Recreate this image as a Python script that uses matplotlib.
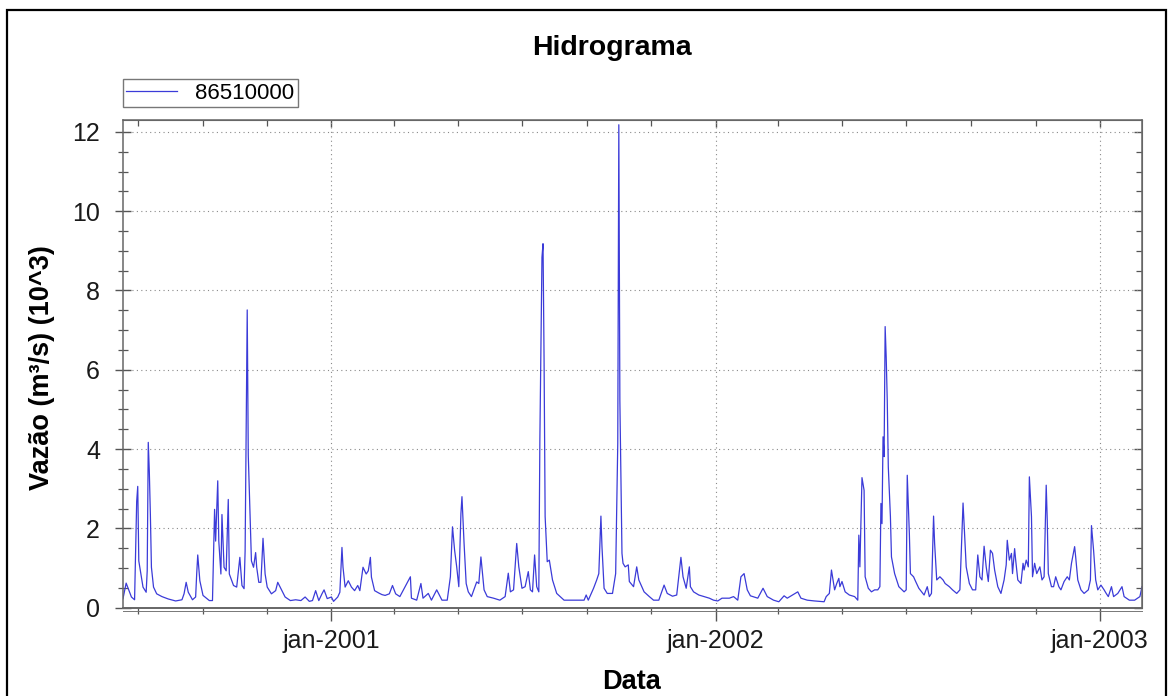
import matplotlib
matplotlib.use("Agg")
import matplotlib.pyplot as plt
import matplotlib.dates as mdates
import matplotlib.ticker as mticker
from matplotlib.patches import Rectangle
import pandas as pd

plt.rcParams['font.family'] = ['Liberation Sans', 'DejaVu Sans']

# ---------------- data ----------------
data_ref = '2001-01-01'          # day offsets below are relative to this date
estacao = '86510000'

dias = [
    -198, -195, -190, -187, -185, -184, -183, -181, -179, -176,
    -175, -174, -173, -172, -171, -169, -166, -161, -155, -148,
    -142, -140, -138, -136, -132, -129, -128, -127, -125, -122,
    -116, -113, -111, -110, -108, -107, -105, -104, -102, -100,
    -98, -97, -93, -90, -87, -85, -83, -82, -80, -79,
    -77, -76, -74, -72, -71, -69, -67, -65, -63, -61,
    -57, -53, -51, -48, -44, -39, -34, -29, -25, -21,
    -18, -15, -12, -9, -7, -4, 0, 2, 6, 8,
    10, 11, 13, 16, 19, 22, 25, 27, 30, 33,
    35, 37, 38, 41, 45, 48, 51, 55, 58, 61,
    65, 75, 76, 81, 85, 87, 92, 95, 100, 105,
    110, 113, 115, 117, 119, 121, 123, 124, 126, 128,
    130, 133, 138, 140, 142, 145, 148, 154, 160, 165,
    168, 170, 173, 176, 178, 181, 184, 187, 189, 191,
    193, 195, 197, 198, 200, 201, 202, 203, 205, 207,
    210, 214, 221, 227, 240, 242, 244, 249, 252, 254,
    256, 257, 259, 262, 267, 270, 272, 273, 274, 276,
    277, 279, 282, 283, 287, 290, 292, 297, 302, 306,
    311, 316, 319, 324, 328, 332, 334, 337, 340, 341,
    344, 349, 354, 359, 363, 367, 371, 378, 382, 386,
    389, 392, 395,
    398, 405, 410, 414, 420, 425, 430, 433, 438, 443,
    446, 452, 459, 468, 470, 473, 475, 478, 480, 482,
    483, 485, 488, 492, 497, 500, 501, 502, 504, 506,
    507, 510, 513, 516, 519, 521, 522, 523, 524, 525,
    526, 527, 528, 529, 531, 532, 535, 539, 544, 546,
    547, 549, 550, 553, 555, 558, 563, 566, 568, 570,
    572, 573, 575, 578, 581, 583, 587, 590, 594, 597,
    599, 600, 601, 603, 606, 609, 612, 614, 616, 618,
    620, 622, 624, 626, 628, 630, 633, 636, 639, 641,
    642, 644, 646, 647, 649, 650, 652, 655, 657, 658,
    660, 662, 663, 665, 666, 668, 670, 673, 675, 677,
    679, 680, 681, 684, 686, 688, 691, 693, 696, 699,
    701, 703, 706, 707, 709, 712, 715, 719, 721, 722,
    724, 726, 728, 731, 734, 736, 738, 741, 743, 747,
    751, 753, 758, 763, 768, 770,
]

vazao = [
    0.23, 0.62, 0.27, 0.20, 2.68, 3.06, 1.18, 0.85, 0.52, 0.39,
    0.93, 4.17, 3.43, 2.35, 1.02, 0.52, 0.35, 0.28, 0.22, 0.17,
    0.20, 0.35, 0.64, 0.39, 0.20, 0.27, 0.85, 1.33, 0.68, 0.31,
    0.18, 0.18, 2.48, 1.68, 3.20, 1.68, 0.85, 2.35, 1.02, 0.93,
    2.73, 0.85, 0.56, 0.52, 1.27, 0.56, 0.48, 1.43, 7.51, 3.85,
    2.02, 1.18, 1.02, 1.39, 1.02, 0.64, 0.64, 1.75, 0.85, 0.52,
    0.35, 0.43, 0.64, 0.48, 0.27, 0.18, 0.20, 0.18, 0.27, 0.16,
    0.18, 0.43, 0.18, 0.35, 0.45, 0.23, 0.27, 0.16, 0.27, 0.39,
    1.52, 1.02, 0.52, 0.68, 0.52, 0.43, 0.56, 0.43, 1.02, 0.85,
    0.93, 1.27, 0.77, 0.43, 0.37, 0.33, 0.31, 0.35, 0.56, 0.35,
    0.28, 0.78, 0.24, 0.19, 0.61, 0.24, 0.36, 0.19, 0.45, 0.19,
    0.19, 0.78, 2.04, 1.45, 1.03, 0.53, 2.37, 2.80, 1.62, 0.61,
    0.40, 0.28, 0.65, 0.61, 1.28, 0.45, 0.28, 0.24, 0.19, 0.28,
    0.87, 0.40, 0.45, 1.62, 1.03, 0.49, 0.53, 0.91, 0.45, 0.40,
    1.33, 0.53, 0.40, 4.23, 8.84, 9.18, 6.24, 2.30, 1.16, 1.20,
    0.70, 0.36, 0.19, 0.19, 0.19, 0.32, 0.19, 0.49, 0.70, 0.86,
    2.31, 1.54, 0.49, 0.36, 0.36, 0.86, 4.14, 12.18, 5.23, 1.37,
    1.12, 1.03, 1.08, 0.66, 0.53, 1.03, 0.70, 0.40, 0.28, 0.19,
    0.19, 0.57, 0.36, 0.29, 0.32, 1.27, 0.78, 0.49, 1.03, 0.53,
    0.40, 0.32, 0.28, 0.24, 0.19, 0.17, 0.24, 0.24, 0.28, 0.19,
    0.78, 0.86, 0.45,
    0.30, 0.24, 0.49, 0.28, 0.19, 0.15, 0.30, 0.24, 0.32, 0.40,
    0.24, 0.19, 0.17, 0.15, 0.28, 0.36, 0.95, 0.45, 0.61, 0.74,
    0.53, 0.66, 0.40, 0.32, 0.28, 0.19, 1.83, 1.03, 3.28, 2.96,
    0.78, 0.49, 0.40, 0.45, 0.45, 0.53, 2.63, 2.12, 4.31, 3.81,
    7.09, 6.32, 5.23, 3.55, 2.30, 1.28, 0.86, 0.53, 0.40, 0.45,
    3.34, 1.87, 0.86, 0.78, 0.66, 0.49, 0.32, 0.53, 0.28, 0.36,
    2.31, 1.62, 0.70, 0.78, 0.70, 0.61, 0.53, 0.45, 0.36, 0.45,
    1.87, 2.64, 2.12, 1.03, 0.61, 0.45, 0.45, 1.33, 0.78, 0.70,
    1.55, 1.03, 0.66, 1.45, 1.37, 0.95, 0.53, 0.36, 0.70, 1.08,
    1.70, 1.20, 1.37, 0.86, 1.49, 1.20, 0.70, 0.61, 1.12, 0.95,
    1.20, 1.03, 3.30, 2.30, 0.78, 1.12, 0.86, 1.03, 0.70, 0.78,
    3.09, 2.20, 0.86, 0.53, 0.53, 0.78, 0.53, 0.45, 0.66, 0.78,
    0.70, 1.12, 1.54, 1.28, 0.70, 0.45, 0.36, 0.45, 0.70, 2.07,
    1.45, 0.70, 0.45, 0.57, 0.45, 0.36, 0.28, 0.53, 0.28, 0.36,
    0.53, 0.28, 0.19, 0.19, 0.28, 0.53,
]

xlim_datas = ['2000-06-17', '2003-02-10']
xticks_datas = ['2001-01-01', '2002-01-01', '2003-01-01']
xticks_rotulos = ['jan-2001', 'jan-2002', 'jan-2003']
yticks = [0, 2, 4, 6, 8, 10, 12]

titulo = 'Hidrograma'
rotulo_x = 'Data'
rotulo_y = 'Vazão (m³/s) (10^3)'

# ---------------- figure ----------------
W, H = 1172, 696
fig = plt.figure(figsize=(W / 100, H / 100), dpi=100)

ax_l, ax_r, ax_t, ax_b = 123, 1142, 120, 607.7
ax = fig.add_axes([ax_l / W, 1 - ax_b / H, (ax_r - ax_l) / W, (ax_b - ax_t) / H])

datas = pd.Timestamp(data_ref) + pd.to_timedelta(dias, unit='D')
line_color = '#3b3bd8'
ax.plot(datas, vazao, color=line_color, lw=0.9, label=estacao)

ax.set_xlim(pd.Timestamp(xlim_datas[0]), pd.Timestamp(xlim_datas[1]))
ax.set_ylim(0, 12.3)

xt = mdates.date2num(pd.to_datetime(xticks_datas).to_pydatetime())
ax.set_xticks(xt)
ax.set_xticklabels(xticks_rotulos)
ax.xaxis.set_minor_locator(mdates.MonthLocator(bymonth=[3, 5, 7, 9, 11]))
ax.set_yticks(yticks)
ax.yaxis.set_minor_locator(mticker.MultipleLocator(0.5))

tick_c = '#555555'
ax.tick_params(axis='y', which='major', direction='inout', length=11, width=1.0,
               pad=11, labelsize=18, color=tick_c, labelcolor='#1a1a1a', right=False)
ax.tick_params(axis='y', which='minor', direction='inout', length=7, width=0.9,
               color=tick_c, right=False)
ax.tick_params(axis='x', which='major', direction='out', length=9, width=1.0,
               pad=6.5, labelsize=18, color=tick_c, labelcolor='#1a1a1a', top=False)
ax.tick_params(axis='x', which='minor', direction='out', length=4.5, width=0.9,
               color=tick_c, top=False)

for s in ax.spines.values():
    s.set_color('#666666')
    s.set_linewidth(1.1)
ax.spines['bottom'].set_linewidth(1.4)

# right / top inward ticks
secy = ax.secondary_yaxis('right')
secy.set_yticks(yticks)
secy.yaxis.set_minor_locator(mticker.MultipleLocator(0.5))
secy.tick_params(which='major', direction='in', length=6, width=1.0, color=tick_c,
                 labelright=False)
secy.tick_params(which='minor', direction='in', length=4, width=0.9, color=tick_c)
secy.spines['right'].set_color('#666666')

secx = ax.secondary_xaxis('top')
secx.set_xticks(xt)
secx.xaxis.set_minor_locator(mdates.MonthLocator(bymonth=[3, 5, 7, 9, 11]))
secx.tick_params(which='major', direction='in', length=5, width=1.0, color=tick_c,
                 labeltop=False)
secx.tick_params(which='minor', direction='in', length=4, width=0.9, color=tick_c)
secx.spines['top'].set_color('#666666')

ax.grid(which='major', linestyle=(0, (1, 3)), color='#8a8a8a', lw=0.8)

# second thin line under the x axis
ax.plot([0, 1], [-0.007, -0.007], transform=ax.transAxes, clip_on=False,
        color='#777777', lw=0.7)

# labels & title
ax.set_title(titulo, x=(612 - ax_l) / (ax_r - ax_l), y=(ax_b - 55) / (ax_b - ax_t),
             pad=0, fontsize=20.5, fontweight='bold', va='baseline')
ax.set_xlabel(rotulo_x, fontsize=19.5, fontweight='bold', va='baseline')
ax.xaxis.set_label_coords((632 - ax_l) / (ax_r - ax_l), (ax_b - 689) / (ax_b - ax_t))
ax.set_ylabel(rotulo_y, fontsize=19.5, fontweight='bold', va='center')
ax.yaxis.set_label_coords((42 - ax_l) / (ax_r - ax_l), (ax_b - 368) / (ax_b - ax_t))

# legend above the axes, top-left
leg = fig.legend(loc='lower left', bbox_to_anchor=(ax_l / W, 1 - 107 / H),
                 frameon=True, fancybox=False, edgecolor='#777777', framealpha=1,
                 fontsize=16, handlelength=2.3, handletextpad=0.8, borderpad=0.15,
                 borderaxespad=0)
leg.get_frame().set_linewidth(1.0)

# outer black border
fig.add_artist(Rectangle((7 / W, -0.1), (1166 - 7) / W, (1 - 10 / H) + 0.1,
                         transform=fig.transFigure, fill=False,
                         edgecolor='black', lw=1.6))

fig.savefig('out.png', dpi=100)
